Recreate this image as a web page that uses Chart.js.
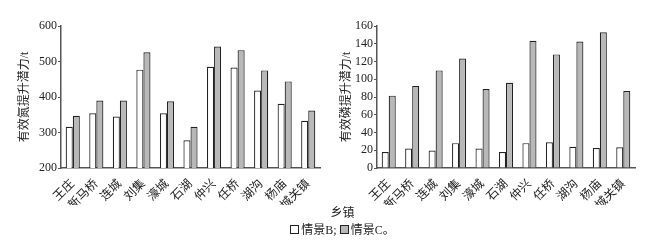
<!DOCTYPE html>
<html>
<head>
<meta charset="utf-8">
<script src="https://cdn.jsdelivr.net/npm/chart.js@4.4.1/dist/chart.umd.min.js"></script>
<style>
    body { margin: 0; background: #fff; width: 669px; height: 246px; overflow: hidden; font-family: "Liberation Serif", "Noto Sans CJK SC", serif; color: #222; }
    .charts { position: absolute; left: 0; top: 0; width: 669px; height: 205px; }
    #chartN { position: absolute; left: 0; top: 0; }
    #chartP { position: absolute; left: 330px; top: 0; }
    .xtitle { position: absolute; left: 8px; width: 669px; top: 203px; text-align: center; font-size: 12px; }
    .legend { position: absolute; left: 8px; width: 669px; top: 220px; text-align: center; font-size: 12px; }
    .box { display: inline-block; width: 7px; height: 7px; border: 1px solid #222; vertical-align: 0px; margin-right: 2px; }
</style>
</head>
<body>
<div class="charts">
    <canvas id="chartN" width="330" height="205"></canvas>
    <canvas id="chartP" width="339" height="205"></canvas>
</div>
<div class="xtitle">乡镇</div>
<div class="legend"><span class="box" style="background:#fff"></span>情景B; <span class="box" style="background:#b8b8b8"></span>情景C。</div>
<script>
// 乡镇
const towns = ['王庄', '新马桥', '连城', '刘集', '濠城', '石湖', '仲兴', '任桥', '湖沟', '杨庙', '城关镇'];

// 有效氮提升潜力 (t)
const nitrogenB = [316, 354, 345, 477, 354, 278, 485, 483, 418, 381, 333];
const nitrogenC = [347, 390, 390, 526, 388, 316, 542, 532, 475, 444, 362];

// 有效磷提升潜力 (t)
const phosphorusB = [18, 22, 19.6, 28, 22, 18, 28, 29, 24, 22.6, 23.4];
const phosphorusC = [81.5, 92.5, 110, 123.4, 89, 96, 143.4, 128, 142.6, 153, 86.8];

const nTicks = [200, 300, 400, 500, 600];
const pTicks = [0, 20, 40, 60, 80, 100, 120, 140, 160];

const textColor = '#222';
const axisColor = '#555';
const fontFamily = '"Liberation Serif", "Noto Sans CJK SC", serif';

function makeChart(id, dataB, dataC, yTicks, yTitle, axisWidth, pad, titlePad) {
    const ctx = document.getElementById(id);
    return new Chart(ctx, {
        type: 'bar',
        data: {
            labels: towns,
            datasets: [{
                label: '情景B',
                data: dataB,
                backgroundColor: '#ffffff',
                borderColor: '#222',
                borderWidth: 1.2,
                barPercentage: 1.0,
                categoryPercentage: 0.6
            }, {
                label: '情景C',
                data: dataC,
                backgroundColor: '#b8b8b8',
                borderColor: '#222',
                borderWidth: 1.2,
                barPercentage: 1.0,
                categoryPercentage: 0.6
            }]
        },
        options: {
            responsive: false,
            animation: false,
            layout: { padding: pad },
            plugins: {
                legend: { display: false },
                tooltip: { enabled: false }
            },
            scales: {
                x: {
                    grid: { display: false },
                    border: { display: true, color: axisColor, width: 1.5 },
                    ticks: {
                        color: textColor,
                        font: { family: fontFamily, size: 12 },
                        minRotation: 45,
                        maxRotation: 45,
                        padding: 1,
                        autoSkip: false
                    },
                    afterFit: (scale) => { scale.height = 37; }
                },
                y: {
                    min: yTicks[0],
                    max: yTicks[yTicks.length - 1],
                    afterBuildTicks: (scale) => { scale.ticks = yTicks.map(v => ({ value: v })); },
                    grid: { display: true, drawOnChartArea: false, drawTicks: true, tickLength: 3, color: axisColor },
                    border: { display: true, color: axisColor, width: 1.5 },
                    ticks: {
                        color: textColor,
                        font: { family: fontFamily, size: 12 },
                        padding: 1
                    },
                    title: {
                        display: true,
                        text: yTitle,
                        color: textColor,
                        font: { family: fontFamily, size: 12 },
                        padding: { top: titlePad, bottom: 0 }
                    },
                    afterFit: (scale) => { scale.width = axisWidth; }
                }
            }
        }
    });
}

makeChart('chartN', nitrogenB, nitrogenC, nTicks, '有效氮提升潜力/t', 53, { left: 8, right: 10, top: 26, bottom: 0 }, 10);
makeChart('chartP', phosphorusB, phosphorusC, pTicks, '有效磷提升潜力/t', 45, { left: 2, right: 34, top: 26, bottom: 0 }, 8);
</script>
</body>
</html>
